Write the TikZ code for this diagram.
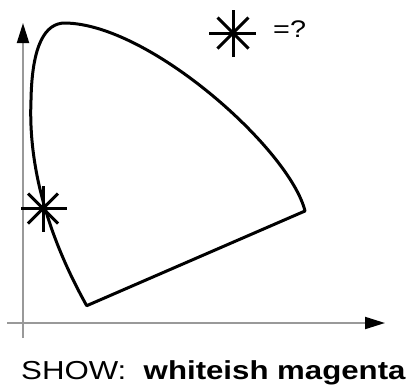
\documentclass[tikz,border=0pt]{standalone}
\usepackage{fontspec}
\setmainfont{Liberation Sans}
\usetikzlibrary{arrows.meta}
\begin{document}
\begin{tikzpicture}[x=1pt,y=-1pt,
  axis/.style={draw=gray!80, line width=2pt, -{Triangle[length=20pt,width=12pt,black]}},
  locus/.style={draw=black, line width=3pt, line join=round},
  star/.style={draw=black, line width=3pt},
  lbl/.style={inner sep=0pt, xscale=1.2, transform shape}]
\useasboundingbox (0,0) rectangle (415,389);
\coordinate (yb) at (23,338);
\coordinate (yt) at (23,23);
\coordinate (xl) at (7,323);
\coordinate (xr) at (385,323);
\draw[axis] (yb) -- (yt);
\draw[axis] (xl) -- (xr);
\coordinate (bl) at (86.7,305.7);
\coordinate (lm) at (31,100);
\coordinate (tp) at (65,23);
\coordinate (rc) at (305,211);
\draw[locus] (bl) .. controls (50,240) and (28,170) .. (lm)
  .. controls (32,45) and (45,23) .. (tp)
  .. controls (150,24) and (290,150) .. (rc) -- cycle;
% asterisk on locus
\coordinate (s1) at (43,208.5);
\draw[star] ([xshift=-22]s1) -- ([xshift=24]s1);
\draw[star] ([yshift=-23]s1) -- ([yshift=23]s1);
\draw[star] ([shift={(-15,-15)}]s1) -- ([shift={(15,15)}]s1);
\draw[star] ([shift={(-15,15)}]s1) -- ([shift={(15,-15)}]s1);
% top asterisk
\coordinate (s2) at (233,33);
\draw[star] ([xshift=-24]s2) -- ([xshift=23]s2);
\draw[star] ([yshift=-24]s2) -- ([yshift=23]s2);
\draw[star] ([shift={(-15.5,-15.5)}]s2) -- ([shift={(15.5,15.5)}]s2);
\draw[star] ([shift={(-15.5,15.5)}]s2) -- ([shift={(15.5,-15.5)}]s2);
\node[lbl, anchor=base west, font=\fontsize{24}{28}\selectfont] (q) at (273,37) {=?};
\node[lbl, anchor=base west, font=\fontsize{26}{30}\selectfont] (show) at (21,379) {SHOW:\ \ \textbf{whiteish magenta}};
\end{tikzpicture}
\end{document}
